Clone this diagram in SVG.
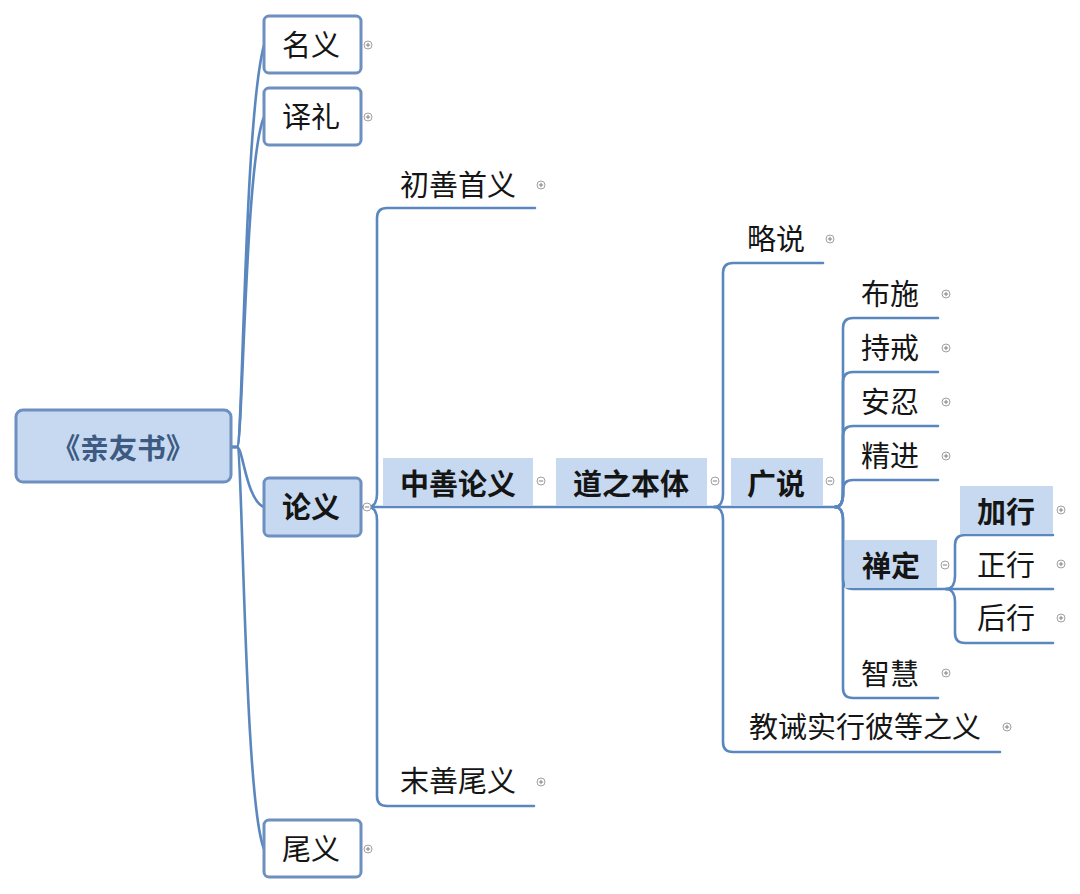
<svg xmlns="http://www.w3.org/2000/svg" width="1080" height="894" viewBox="0 0 1080 894">
<defs>
<style>
.t{font-family:"Noto Sans CJK SC","Microsoft YaHei","Liberation Sans",sans-serif;font-size:29px;fill:#151515;text-anchor:middle}
.b{font-weight:bold}
.rt{font-family:"Noto Sans CJK SC","Liberation Sans",sans-serif;font-size:28.5px;font-weight:bold;fill:#3c5a82;text-anchor:middle}
.box{fill:#ffffff;stroke:#6d90c0;stroke-width:3}
.hbox{fill:#c6d9f0;stroke:#6d90c0;stroke-width:3}
.hl{fill:#c6d9f0}
.ln{fill:none;stroke:#5b87bf;stroke-width:2.6;stroke-linecap:round}
.icc{fill:#ffffff;stroke:#a0a0a0;stroke-width:1}
.icp{stroke:#808080;stroke-width:1;fill:none}
</style>
<g id="plus"><circle class="icc" cx="0" cy="0" r="4"/><path class="icp" d="M-2.2,0H2.2M0,-2.2V2.2"/></g>
<g id="minus"><circle class="icc" cx="0" cy="0" r="4"/><path class="icp" d="M-2.2,0H2.2"/></g>
</defs>
<rect width="1080" height="894" fill="#ffffff"/>

<g id="connectors">
<path class="ln" d="M231,447 H237 C243,447 244,120 264,45"/>
<path class="ln" d="M231,447 H237 C243,447 245,160 264,117"/>
<path class="ln" d="M231,447 H237 C243,447 246,500 264,507"/>
<path class="ln" d="M231,447 H237 C243,447 244,800 264,849"/>

<path class="ln" d="M361,507 H837"/>
<path class="ln" d="M368,507 C375,507 377,500 377,494 V218 Q377,208 387,208 H535"/>
<path class="ln" d="M368,507 C375,507 377,514 377,520 V796 Q377,806 387,806 H534"/>

<path class="ln" d="M714,507 C721,507 723,500 723,494 V273 Q723,263 733,263 H823"/>
<path class="ln" d="M714,507 C721,507 723,514 723,520 V742 Q723,752 733,752 H1000"/>

<path class="ln" d="M835,507 C842,507 843,500 843,494 V328 Q843,318 853,318 H938"/>
<path class="ln" d="M835,507 C842,507 843,500 843,494 V382 Q843,372 853,372 H938"/>
<path class="ln" d="M835,507 C842,507 843,500 843,494 V436 Q843,426 853,426 H938"/>
<path class="ln" d="M835,507 C842,507 843,500 843,494 V490 Q843,480 853,480 H938"/>
<path class="ln" d="M835,507 C842,507 843,514 843,520 V579 Q843,589 853,589 H1053"/>
<path class="ln" d="M835,507 C842,507 843,514 843,520 V688 Q843,698 853,698 H938"/>

<path class="ln" d="M946,589 C953,589 955,582 955,576 V545 Q955,535 965,535 H1053"/>
<path class="ln" d="M946,589 C953,589 955,596 955,602 V633 Q955,643 965,643 H1053"/>
</g>

<g id="root"><rect class="hbox" x="16" y="410" width="215" height="72" rx="7"/><text class="rt" x="123" y="459">《亲友书》</text></g>

<g id="n-mingyi"><rect class="box" x="264" y="16" width="97" height="57" rx="5"/><text class="t" x="311" y="56">名义</text></g>
<g id="n-yili"><rect class="box" x="264" y="88" width="97" height="57" rx="5"/><text class="t" x="311" y="128">译礼</text></g>
<g id="n-lunyi"><rect class="hbox" x="264" y="478" width="97" height="58" rx="5"/><text class="t b" x="311" y="518">论义</text></g>
<g id="n-weiyi"><rect class="box" x="264" y="820" width="97" height="57" rx="5"/><text class="t" x="311" y="860">尾义</text></g>

<g id="n-chushan"><text class="t" x="458" y="196">初善首义</text></g>
<g id="n-zhongshan"><rect class="hl" x="383" y="458" width="150" height="48"/><text class="t b" x="458" y="495">中善论义</text></g>
<g id="n-moshan"><text class="t" x="458" y="792">末善尾义</text></g>

<g id="n-dao"><rect class="hl" x="556" y="458" width="151" height="48"/><text class="t b" x="631" y="495">道之本体</text></g>

<g id="n-lueshuo"><text class="t" x="776" y="250">略说</text></g>
<g id="n-guangshuo"><rect class="hl" x="731" y="458" width="92" height="48"/><text class="t b" x="776" y="495">广说</text></g>
<g id="n-jiaojie"><text class="t" x="865" y="738">教诫实行彼等之义</text></g>

<g id="n-bushi"><text class="t" x="890" y="305">布施</text></g>
<g id="n-chijie"><text class="t" x="890" y="359">持戒</text></g>
<g id="n-anren"><text class="t" x="890" y="413">安忍</text></g>
<g id="n-jingjin"><text class="t" x="890" y="467">精进</text></g>
<g id="n-chanding"><rect class="hl" x="845" y="540" width="92" height="48"/><text class="t b" x="891" y="577">禅定</text></g>
<g id="n-zhihui"><text class="t" x="890" y="685">智慧</text></g>

<g id="n-jiaxing"><rect class="hl" x="960" y="486" width="93" height="48"/><text class="t b" x="1006" y="523">加行</text></g>
<g id="n-zhengxing"><text class="t" x="1006" y="576">正行</text></g>
<g id="n-houxing"><text class="t" x="1006" y="629">后行</text></g>

<g id="icons">
<use href="#plus" x="368" y="45"/>
<use href="#plus" x="368" y="117"/>
<use href="#minus" x="367" y="507"/>
<use href="#plus" x="368" y="849"/>
<use href="#plus" x="541" y="185"/>
<use href="#minus" x="541" y="481"/>
<use href="#plus" x="541" y="782"/>
<use href="#minus" x="715" y="481"/>
<use href="#plus" x="830" y="239"/>
<use href="#minus" x="830" y="481"/>
<use href="#plus" x="946" y="294"/>
<use href="#plus" x="946" y="348"/>
<use href="#plus" x="946" y="402"/>
<use href="#plus" x="946" y="456"/>
<use href="#minus" x="945" y="565"/>
<use href="#plus" x="946" y="673"/>
<use href="#plus" x="1061" y="510"/>
<use href="#plus" x="1061" y="564"/>
<use href="#plus" x="1061" y="618"/>
<use href="#plus" x="1007" y="727"/>
</g>
</svg>
